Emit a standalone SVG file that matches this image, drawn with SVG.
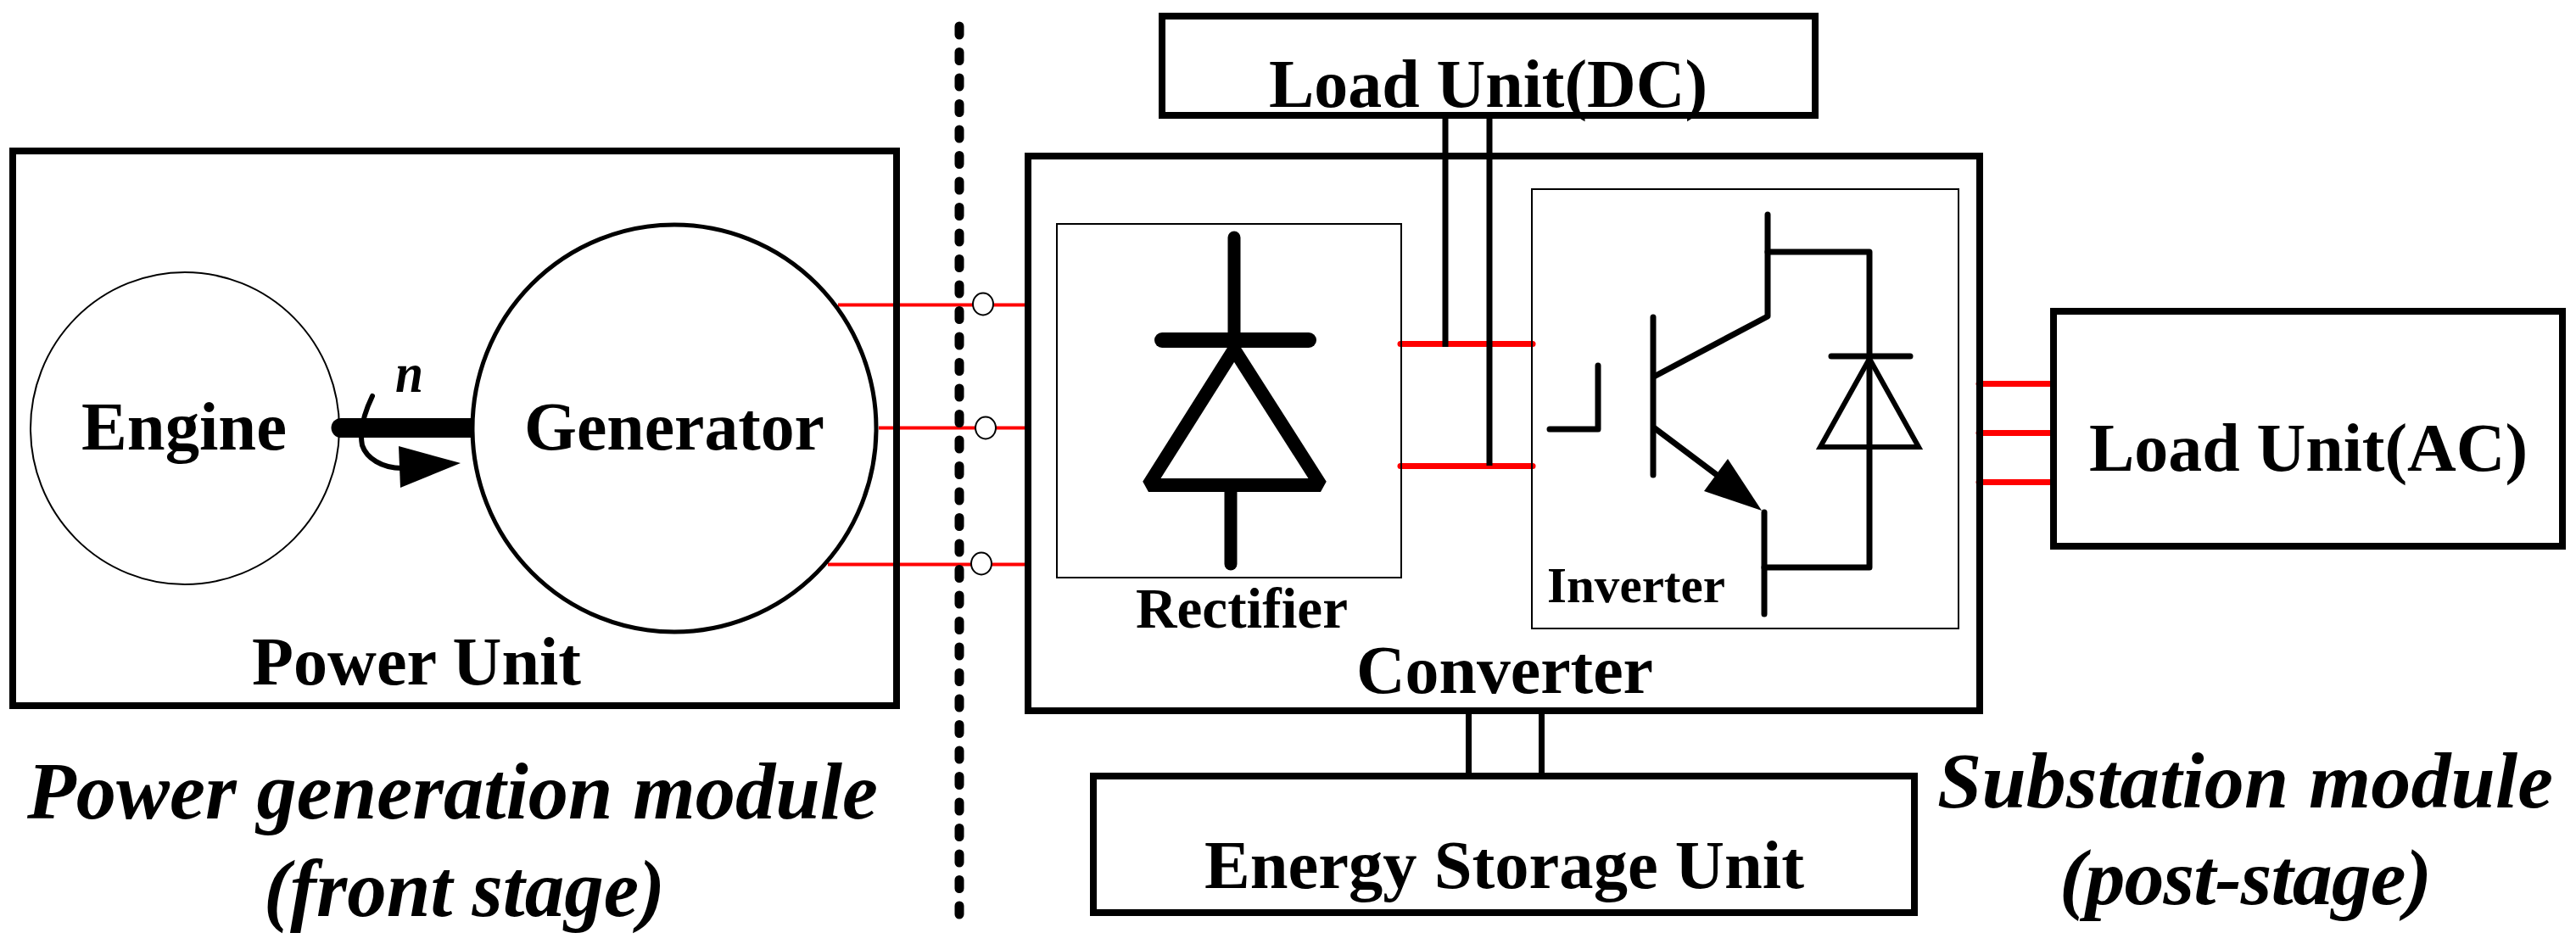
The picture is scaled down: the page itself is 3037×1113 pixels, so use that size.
<svg xmlns="http://www.w3.org/2000/svg" width="3037" height="1113" viewBox="0 0 3037 1113">
<style>
text{font-family:"Liberation Serif","Times New Roman",serif;font-weight:bold;fill:#000}
.lbl{font-size:81px}
.it{font-size:94px;font-style:italic}
.box{fill:none;stroke:#000;stroke-width:8}
.thin{fill:none;stroke:#000;stroke-width:2}
.red{fill:none;stroke:#f00;stroke-linecap:round}
.w{fill:none;stroke:#000;stroke-width:7}
.wr{fill:none;stroke:#000;stroke-width:7;stroke-linecap:round;stroke-linejoin:round}
.hvy{fill:none;stroke:#000;stroke-width:15;stroke-linecap:round;stroke-linejoin:round}
</style>
<rect width="3037" height="1113" fill="#fff"/>
<g id="connectors">
<g class="red" stroke-width="4" style="stroke-linecap:butt">
<path d="M988 359.500H1212"/><path d="M1036 504.500H1212"/><path d="M976 665.500H1212"/>
</g>
<g class="red" stroke-width="7">
<path d="M1651 405.500H1807"/><path d="M1651 549.500H1807"/>
<path d="M2333 452.500H2417"/><path d="M2333 510.500H2417"/><path d="M2333 568.500H2417"/>
</g>
<g class="w">
<path d="M1704 136V409"/><path d="M1756 136V549"/>
<path d="M1731.500 838V915"/><path d="M1817.500 838V915"/>
</g>
<path id="divider" d="M1131 1078V26" fill="none" stroke="#000" stroke-width="11" stroke-linecap="round" stroke-dasharray="10 20.5"/>
<g fill="#fff" stroke="#000" stroke-width="2">
<ellipse cx="1159" cy="358.500" rx="12" ry="13"/><ellipse cx="1162" cy="504.500" rx="12" ry="13"/><ellipse cx="1157" cy="664.500" rx="12" ry="13"/>
</g>
</g>
<g id="power-unit">
<rect class="box" x="15" y="178" width="1042" height="654"/>
<text class="lbl" x="297" y="807" textLength="388" lengthAdjust="spacingAndGlyphs">Power Unit</text>
</g>
<g id="engine">
<ellipse class="thin" cx="218" cy="505" rx="182" ry="184"/>
<text class="lbl" x="96" y="530" textLength="242" lengthAdjust="spacingAndGlyphs">Engine</text>
</g>
<g id="generator">
<ellipse cx="795" cy="505" rx="238" ry="240" fill="none" stroke="#000" stroke-width="5"/>
<text class="lbl" x="618" y="530" textLength="354" lengthAdjust="spacingAndGlyphs">Generator</text>
</g>
<g id="shaft">
<path d="M402 493H557V516H402A11.500 11.500 0 0 1 402 493Z"/>
<path d="M439 467C428 490 424 510 427 525C432 540 450 552 474 552" fill="none" stroke="#000" stroke-width="6" stroke-linecap="round"/>
<path d="M470 526L543 546L472 575Z"/>
<text x="466" y="462" textLength="33" lengthAdjust="spacingAndGlyphs" style="font-size:66px;font-style:italic">n</text>
</g>
<g id="converter">
<rect class="box" x="1212" y="184" width="1122" height="654"/>
<text class="lbl" x="1599" y="817" textLength="350" lengthAdjust="spacingAndGlyphs">Converter</text>
</g>
<g id="rectifier">
<rect class="thin" x="1246" y="264" width="406" height="417"/>
<path class="hvy" d="M1455 280V395"/>
<path d="M1370 401H1543" fill="none" stroke="#000" stroke-width="18" stroke-linecap="round"/>
<path d="M1455 412L1354 572H1557Z" fill="none" stroke="#000" stroke-width="16" stroke-linejoin="bevel"/>
<path class="hvy" d="M1451 580V665"/>
<text x="1339" y="740" textLength="250" lengthAdjust="spacingAndGlyphs" style="font-size:67px">Rectifier</text>
</g>
<g id="inverter">
<rect class="thin" x="1806" y="223" width="503" height="518"/>
<path class="wr" d="M2084 253V373L1950 444"/>
<path class="wr" d="M1949 374V560"/>
<path class="wr" d="M1951 505L2040 572"/>
<path d="M2077 602L2037 541L2009 579Z"/>
<path class="wr" d="M2080 604V724"/>
<path class="wr" d="M2084 297H2204V669H2080"/>
<path class="wr" d="M2159 420H2252"/>
<path d="M2204 423L2146 527H2262Z" fill="none" stroke="#000" stroke-width="6"/>
<path class="wr" d="M1884 431V506H1827"/>
<text x="1824" y="710" textLength="210" lengthAdjust="spacingAndGlyphs" style="font-size:60px">Inverter</text>
</g>
<g id="load-dc">
<rect class="box" x="1370" y="19" width="770" height="117"/>
<text class="lbl" x="1496" y="126" textLength="517" lengthAdjust="spacingAndGlyphs">Load Unit(DC)</text>
</g>
<g id="load-ac">
<rect class="box" x="2421" y="367" width="600" height="277"/>
<text class="lbl" x="2463" y="555" textLength="517" lengthAdjust="spacingAndGlyphs">Load Unit(AC)</text>
</g>
<g id="energy-storage">
<rect class="box" x="1289" y="915" width="968" height="161"/>
<text class="lbl" x="1420" y="1047" textLength="707" lengthAdjust="spacingAndGlyphs">Energy Storage Unit</text>
</g>
<text class="it" x="32" y="965" textLength="1003" lengthAdjust="spacingAndGlyphs" style="font-size:96px">Power generation module</text>
<text class="it" x="311" y="1080" textLength="473" lengthAdjust="spacingAndGlyphs" style="font-size:96px">(front stage)</text>
<text class="it" x="2284" y="952" textLength="726">Substation module</text>
<text class="it" x="2428" y="1066" textLength="439">(post-stage)</text>
</svg>
